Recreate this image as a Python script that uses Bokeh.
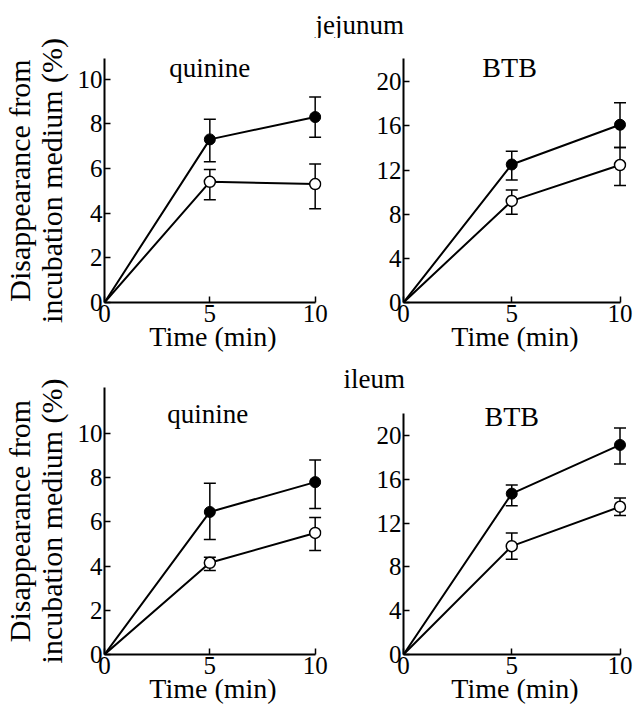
from bokeh.plotting import figure
from bokeh.models import ColumnDataSource, Whisker, TeeHead, Label, FixedTicker, Range1d
from bokeh.layouts import row, column
from bokeh.embed import file_html
from bokeh.resources import INLINE

FONT = "Liberation Serif"

# ---------------- data ----------------
time = [0, 5, 10]
err_time = [5, 10]
x_ticks = [0, 5, 10]
y_ticks_quinine = [0, 2, 4, 6, 8, 10]
y_ticks_btb = [0, 4, 8, 12, 16, 20]

# jejunum - quinine
jq_filled = [0, 7.3, 8.3]
jq_filled_hi = [8.2, 9.2]
jq_filled_lo = [6.3, 7.4]
jq_open = [0, 5.4, 5.3]
jq_open_hi = [5.95, 6.2]
jq_open_lo = [4.6, 4.2]

# jejunum - BTB
jb_filled = [0, 12.5, 16.1]
jb_filled_hi = [13.7, 18.1]
jb_filled_lo = [11.1, 14.05]
jb_open = [0, 9.2, 12.45]
jb_open_hi = [10.2, 14.05]
jb_open_lo = [8.0, 10.6]

# ileum - quinine
iq_filled = [0, 6.45, 7.8]
iq_filled_hi = [7.75, 8.8]
iq_filled_lo = [5.2, 6.6]
iq_open = [0, 4.15, 5.5]
iq_open_hi = [4.4, 6.2]
iq_open_lo = [3.8, 4.7]

# ileum - BTB
ib_filled = [0, 14.7, 19.15]
ib_filled_hi = [15.5, 20.7]
ib_filled_lo = [13.6, 17.4]
ib_open = [0, 9.9, 13.5]
ib_open_hi = [11.1, 14.3]
ib_open_lo = [8.7, 12.7]

Y_LABEL = "Disappearance from\nincubation medium (%)"
X_LABEL = "Time (min)"


def make_panel(width, height, y_end, y_axis_end, yticks, mb_left, mb_right, mb_top, mb_bottom,
               filled, filled_hi, filled_lo, opn, opn_hi, opn_lo, ylabel=None):
    p = figure(width=width, height=height,
               x_range=Range1d(0, 10.3), y_range=Range1d(0, y_end),
               output_backend="svg", toolbar_location=None,
               min_border_left=mb_left, min_border_right=mb_right,
               min_border_top=mb_top, min_border_bottom=mb_bottom)
    p.grid.visible = False
    p.outline_line_color = None
    p.background_fill_color = "white"
    p.border_fill_color = "white"

    xa = p.xaxis[0]
    ya = p.yaxis[0]
    xa.ticker = FixedTicker(ticks=x_ticks)
    ya.ticker = FixedTicker(ticks=yticks)
    xa.bounds = (0, 10)
    ya.bounds = (0, y_axis_end)
    for ax in (xa, ya):
        ax.axis_line_width = 2
        ax.axis_line_color = "black"
        ax.major_tick_in = 6
        ax.major_tick_out = 0
        ax.major_tick_line_width = 1.5
        ax.major_tick_line_color = "black"
        ax.minor_tick_line_color = None
        ax.major_label_text_font = FONT
        ax.major_label_text_font_size = "25px"
        ax.major_label_text_color = "black"
        ax.axis_label_text_font = FONT
        ax.axis_label_text_font_style = "normal"
        ax.axis_label_text_color = "black"
    xa.major_label_standoff = 2
    xa.axis_label = X_LABEL
    xa.axis_label_text_font_size = "28px"
    xa.axis_label_standoff = -4
    ya.major_label_standoff = 2
    if ylabel:
        ya.axis_label = ylabel
        ya.axis_label_text_font_size = "30px"
        ya.axis_label_standoff = 7
        ya.axis_label_text_line_height = 0.95

    src_f = ColumnDataSource(dict(x=err_time, hi=filled_hi, lo=filled_lo))
    src_o = ColumnDataSource(dict(x=err_time, hi=opn_hi, lo=opn_lo))
    for src in (src_f, src_o):
        w = Whisker(source=src, base="x", upper="hi", lower="lo", dimension="height",
                    line_width=1.5, line_color="black",
                    upper_head=TeeHead(size=12, line_width=1.5, line_color="black"),
                    lower_head=TeeHead(size=12, line_width=1.5, line_color="black"))
        p.add_layout(w)

    p.line(time, filled, line_color="black", line_width=2)
    p.line(time, opn, line_color="black", line_width=2)
    p.scatter(time[1:], filled[1:], size=11, marker="circle", fill_color="black", line_color="black")
    p.scatter(time[1:], opn[1:], size=11, marker="circle", fill_color="white", line_color="black",
              line_width=1.5)
    return p


def panel_label(p, x, y, text, align="center", size="27px"):
    p.add_layout(Label(x=x, y=y, text=text, text_align=align, text_baseline="alphabetic",
                       text_font=FONT, text_font_size=size, text_color="black"))


# ---------------- title strip: jejunum ----------------
strip = figure(width=634, height=38, x_range=Range1d(0, 634), y_range=Range1d(0, 38),
               x_axis_type=None, y_axis_type=None, output_backend="svg", toolbar_location=None,
               min_border=0, min_border_left=0, min_border_right=0,
               min_border_top=0, min_border_bottom=0)
strip.grid.visible = False
strip.outline_line_color = None
strip.add_layout(Label(x=315, y=14, text="jejunum", text_align="left", text_baseline="alphabetic",
                       text_font=FONT, text_font_size="27px", text_color="black"))

# ---------------- row 1: jejunum ----------------
p1 = make_panel(328, 316, 10.92, 10.92, y_ticks_quinine, 100, 7, 20, 52,
                jq_filled, jq_filled_hi, jq_filled_lo, jq_open, jq_open_hi, jq_open_lo, ylabel=Y_LABEL)
panel_label(p1, 5.0, 10.5, "quinine")

p2 = make_panel(306, 316, 22.1, 22.1, y_ticks_btb, 75, 8, 20, 52,
                jb_filled, jb_filled_hi, jb_filled_lo, jb_open, jb_open_hi, jb_open_lo)
panel_label(p2, 4.9, 21.3, "BTB", size="28px")

# ---------------- row 2: ileum ----------------
p3 = make_panel(328, 352, 12.08, 12.08, y_ticks_quinine, 98, 7, 33, 52,
                iq_filled, iq_filled_hi, iq_filled_lo, iq_open, iq_open_hi, iq_open_lo, ylabel=Y_LABEL)
panel_label(p3, 4.9, 10.9, "quinine")

p4 = make_panel(306, 352, 24.4, 22.0, y_ticks_btb, 75, 8, 33, 52,
                ib_filled, ib_filled_hi, ib_filled_lo, ib_open, ib_open_hi, ib_open_lo)
panel_label(p4, 5.0, 21.75, "BTB", size="28px")
p4.title.text = "ileum"
p4.title.align = "left"
p4.title.offset = -60
p4.title.standoff = -12
p4.title.vertical_align = "bottom"
p4.title.text_font = FONT
p4.title.text_font_size = "27px"
p4.title.text_font_style = "normal"
p4.title.text_color = "black"

layout = column(strip, row(p1, p2), row(p3, p4))
open("out.html", "w").write(file_html(layout, INLINE))
